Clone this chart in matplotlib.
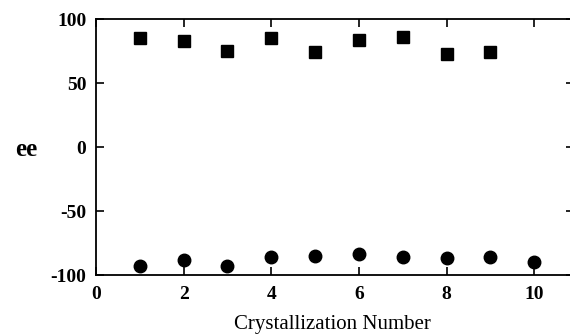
import matplotlib
matplotlib.use("Agg")
import matplotlib.pyplot as plt

# valores
cristalizacao_quad = [1, 2, 3, 4, 5, 6, 7, 8, 9]
ee_quad = [85, 83, 75, 85.5, 74.5, 83.5, 86, 72.5, 74]

cristalizacao_circ = [1, 2, 3, 4, 5, 6, 7, 8, 9, 10]
ee_circ = [-93, -88.5, -93, -86, -85, -83.5, -86, -86.5, -86, -89.5]

x_ticks = [0, 2, 4, 6, 8, 10]
y_ticks = [-100, -50, 0, 50, 100]

plt.rcParams['font.family'] = ['Liberation Serif', 'DejaVu Serif']
plt.rcParams['axes.unicode_minus'] = False

fig = plt.figure(figsize=(5.7, 3.35), dpi=100)
ax = fig.add_axes([96 / 570, 60 / 335, 482 / 570, 256 / 335])

ax.plot(cristalizacao_quad, ee_quad, 's', color='black', markersize=8.5, clip_on=False)
ax.plot(cristalizacao_circ, ee_circ, 'o', color='black', markersize=9, clip_on=False)

ax.set_xlim(0, 11)
ax.set_ylim(-100, 100)
ax.set_xticks(x_ticks)
ax.set_yticks(y_ticks)

for lado in ['left', 'top', 'bottom']:
    ax.spines[lado].set_linewidth(1.3)
ax.spines['right'].set_visible(False)

ax.tick_params(axis='both', direction='in', length=6, width=1.2,
               top=True, labelsize=14)
ax.tick_params(axis='y', which='major', right=True)
ax.tick_params(axis='x', pad=8)
ax.tick_params(axis='y', pad=7)
# so a pontinha dos ticks da direita aparece na borda
for t in ax.yaxis.get_major_ticks():
    t.tick2line.set_markersize(8.5)
for rotulo in ax.get_xticklabels() + ax.get_yticklabels():
    rotulo.set_fontweight('bold')

fig.text(26 / 570, 1 - 150 / 335, 'ee', fontsize=18, fontweight='bold',
         ha='center', va='center')
fig.text(332 / 570, 1 - 325 / 335, 'Crystallization Number', fontsize=15,
         ha='center', va='center')

fig.savefig('out.png', dpi=100)
